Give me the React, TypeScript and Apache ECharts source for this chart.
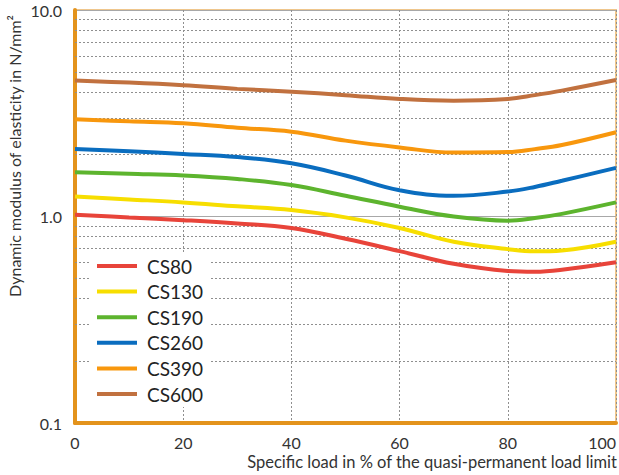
import React, { useEffect, useRef } from "react";
import * as echarts from "echarts";

const xValues = [0, 10, 20, 30, 40, 50, 60, 70, 80, 85, 90, 100];
const seriesNames = ["CS80", "CS130", "CS190", "CS260", "CS390", "CS600"];
const cs80 = [1.02, 0.99, 0.96, 0.925, 0.88, 0.78, 0.68, 0.59, 0.545, 0.54, 0.552, 0.6];
const cs130 = [1.25, 1.21, 1.17, 1.12, 1.075, 0.99, 0.88, 0.755, 0.695, 0.678, 0.685, 0.755];
const cs190 = [1.64, 1.61, 1.58, 1.52, 1.42, 1.26, 1.115, 1.0, 0.955, 0.983, 1.03, 1.17];
const cs260 = [2.12, 2.07, 2.01, 1.94, 1.81, 1.58, 1.34, 1.26, 1.32, 1.39, 1.49, 1.72];
const cs390 = [2.96, 2.89, 2.83, 2.69, 2.575, 2.33, 2.16, 2.04, 2.05, 2.12, 2.22, 2.56];
const cs600 = [4.55, 4.45, 4.32, 4.15, 4.02, 3.87, 3.71, 3.64, 3.71, 3.87, 4.07, 4.58];
const minorGridValues = [0.2, 0.3, 0.4, 0.5, 0.6, 0.7, 0.8, 0.9, 2, 3, 4, 5, 6, 7, 8, 9];
const colors = ["#E8443A", "#F7DE00", "#5DB42E", "#0A6DBF", "#F8970D", "#C1713F"];
const xTitle = "Specific load in % of the quasi-permanent load limit";
const yTitle = "Dynamic modulus of elasticity in N/mm²";

const FONT = "Lato, 'DejaVu Sans', sans-serif";

export default function App() {
  const ref = useRef<HTMLDivElement>(null);
  useEffect(() => {
    if (!ref.current) return;
    const chart = echarts.init(ref.current, undefined, { renderer: "svg" });
    const all = [cs80, cs130, cs190, cs260, cs390, cs600];
    const series: any[] = all.map((vals, i) => ({
      name: seriesNames[i],
      type: "line",
      smooth: 0.4,
      symbol: "none",
      color: colors[i],
      lineStyle: { color: colors[i], width: 4 },
      data: vals.map((v, j) => [xValues[j], v]),
      z: 3,
    }));
    series[0].markLine = {
      silent: true,
      symbol: "none",
      label: { show: false },
      lineStyle: { color: "#8f8f8f", type: [2, 2], width: 1 },
      data: minorGridValues.map((v) => ({ yAxis: v })),
      z: 1,
    };
    chart.setOption({
      animation: false,
      textStyle: { fontFamily: FONT },
      grid: {
        left: 75,
        right: 3,
        top: 10,
        bottom: 52,
        show: true,
        borderColor: "#EFC68C",
        borderWidth: 2,
        backgroundColor: "#fff",
      },
      xAxis: {
        type: "value",
        min: 0,
        max: 100,
        interval: 20,
        axisLine: { show: true, lineStyle: { color: "#E3931C", width: 4 } },
        axisTick: { show: false },
        axisLabel: {
          color: "#333",
          fontSize: 16,
          fontFamily: FONT,
          margin: 11,
          alignMaxLabel: "right",
        },
        splitLine: { show: true, lineStyle: { color: "#8f8f8f", type: [2, 2], width: 1 } },
      },
      yAxis: {
        type: "log",
        logBase: 10,
        min: 0.1,
        max: 10,
        axisLine: { show: true, lineStyle: { color: "#E3931C", width: 4 } },
        axisTick: { show: false },
        axisLabel: {
          color: "#333",
          fontSize: 16,
          fontFamily: FONT,
          margin: 13,
          formatter: (v: number) => (v >= 1 ? v.toFixed(1) : String(v)),
        },
        splitLine: { show: true, lineStyle: { color: "#a8a8a8", type: "solid", width: 1 } },
      },
      legend: {
        orient: "vertical",
        left: 89,
        top: 252,
        padding: [4, 7, 3, 8],
        backgroundColor: "#fff",
        icon: "rect",
        itemWidth: 40,
        itemHeight: 4,
        itemGap: 5.6,
        data: seriesNames,
        textStyle: {
          color: "#222",
          fontSize: 19,
          lineHeight: 20,
          fontFamily: FONT,
          padding: [0, 0, 0, 5],
        },
      },
      graphic: [
        {
          type: "text",
          x: 14,
          y: 156,
          rotation: Math.PI / 2,
          style: {
            text: yTitle,
            fill: "#333",
            font: `16px ${FONT}`,
            textAlign: "center",
            textVerticalAlign: "middle",
          },
        },
        {
          type: "text",
          x: 617,
          y: 462,
          style: {
            text: xTitle,
            fill: "#333",
            font: `16.5px ${FONT}`,
            textAlign: "right",
            textVerticalAlign: "middle",
          },
        },
      ],
      series,
    });
    return () => chart.dispose();
  }, []);
  return <div ref={ref} style={{ width: 619, height: 475, position: "absolute", left: 0, top: 0 }} />;
}
